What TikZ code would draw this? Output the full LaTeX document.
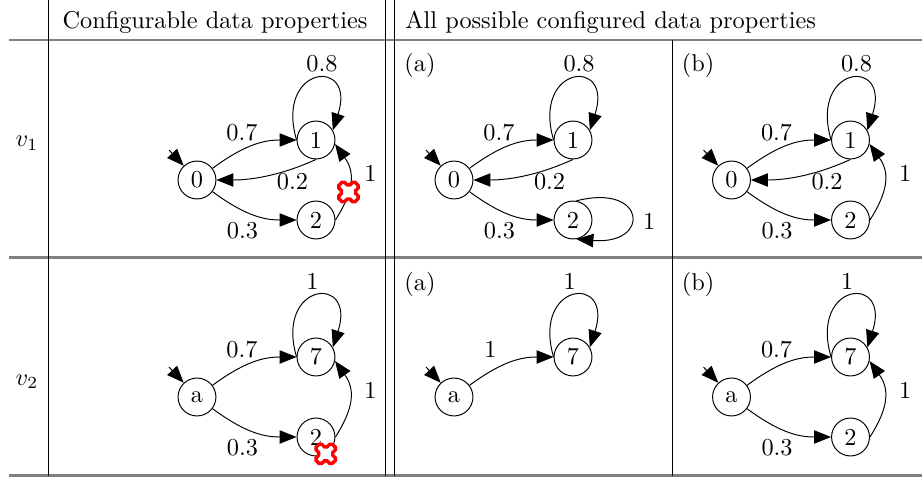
\documentclass[tikz,border=0pt]{standalone}
\usepackage{tikz}
\usetikzlibrary{arrows.meta}
\tikzset{xcross/.pic={
	\draw[red, line width=1.4pt, fill=white, rounded corners=0.8pt, rotate=45]
		(-4,-11.5) -- (4,-11.5) -- (4,-4) -- (11.5,-4) -- (11.5,4) -- (4,4) -- (4,11.5)
		-- (-4,11.5) -- (-4,4) -- (-11.5,4) -- (-11.5,-4) -- (-4,-4) -- cycle;}}

\begin{document}
\begin{tikzpicture}[x=0.4115pt, y=-0.4115pt,
	st/.style={circle, draw, minimum size=15.6pt, inner sep=0pt},
	arr/.style={-{Triangle[length=7pt, width=5.5pt]}},
	lbl/.style={anchor=west, inner sep=0pt},
	rul/.style={gray, line width=0.9pt}]
	\useasboundingbox (0,0) rectangle (922,479);
	\draw[rul] (9,  40) -- (922,  40);
	\draw[rul] (9, 257.5) -- (922, 257.5);
	\draw[rul] (9, 475.5) -- (922, 475.5);
	\draw[black] (48,  0) -- (48,  475.5);
	\draw[black] (385, 0) -- (385, 475.5);
	\draw[black] (394, 0) -- (394, 475.5);
	\draw[black] (672, 40) -- (672, 475.5);

	\node[anchor=base, inner sep=0pt] (hcfg) at (215, 28.5) {Configurable data properties};
	\node[anchor=base west, inner sep=0pt] (hall) at (405, 28.5) {All possible configured data properties};
	\node[anchor=base, inner sep=0pt] (rv1) at (27, 147) {$v_1$};
	\node[anchor=base, inner sep=0pt] (rv2) at (27, 385) {$v_2$};
	\node[inner sep=0pt] (ta1) at (420, 65) {(a)};
	\node[inner sep=0pt] (tb1) at (698, 65) {(b)};
	\node[inner sep=0pt] (ta2) at (420, 284) {(a)};
	\node[inner sep=0pt] (tb2) at (698, 284) {(b)};

	% v1, configurable
	\node[st] (c1n0) at (197, 180) {0};
	\node[st] (c1n1) at (316, 140) {1};
	\node[st] (c1n2) at (316, 220) {2};
	\coordinate (c1s) at (169, 150);
	\draw[arr] (c1s) -- (c1n0);
	\draw[arr] (c1n0.37) .. controls +(30,-22) and +(-35,0) .. (c1n1.west);
	\draw[arr] (c1n1.south) .. controls +(-35,16) and +(35,0) .. (c1n0.east);
	\draw[arr] (c1n0.-37) .. controls +(30,22) and +(-35,0) .. (c1n2.west);
	\draw[arr] (c1n1.180) .. controls +(-22,-75) and +(24,-74) .. (c1n1.30);
	\draw[arr] (c1n2.east) .. controls +(19,-30) and +(20,28) .. coordinate[pos=0.35] (c1x) (c1n1.-12);
	\pic at (c1x) {xcross};
	\node[lbl] (c1l1) at (226, 132.5) {0.7};
	\node[lbl] (c1l2) at (276.5, 182) {0.2};
	\node[lbl] (c1l3) at (226.5, 230.5) {0.3};
	\node[lbl] (c1l4) at (306, 64) {0.8};
	\node[lbl] (c1l5) at (364, 173) {1};

	% v1, (a)
	\node[st] (a1n0) at (454, 180) {0};
	\node[st] (a1n1) at (573, 140) {1};
	\node[st] (a1n2) at (573, 220) {2};
	\coordinate (a1s) at (426, 150);
	\draw[arr] (a1s) -- (a1n0);
	\draw[arr] (a1n0.37) .. controls +(30,-22) and +(-35,0) .. (a1n1.west);
	\draw[arr] (a1n1.south) .. controls +(-35,16) and +(35,0) .. (a1n0.east);
	\draw[arr] (a1n0.-37) .. controls +(30,22) and +(-35,0) .. (a1n2.west);
	\draw[arr] (a1n1.180) .. controls +(-22,-75) and +(24,-74) .. (a1n1.30);
	\draw[arr] (a1n2.80) .. controls +(70,-18) and +(75,6) .. (a1n2.-80);
	\node[lbl] (a1l1) at (483, 132.5) {0.7};
	\node[lbl] (a1l2) at (533.5, 182) {0.2};
	\node[lbl] (a1l3) at (483.5, 230.5) {0.3};
	\node[lbl] (a1l4) at (563, 64) {0.8};
	\node[lbl] (a1l5) at (642.5, 221.5) {1};

	% v1, (b)
	\node[st] (b1n0) at (731.5, 180) {0};
	\node[st] (b1n1) at (850.5, 140) {1};
	\node[st] (b1n2) at (850.5, 220) {2};
	\coordinate (b1s) at (703.5, 150);
	\draw[arr] (b1s) -- (b1n0);
	\draw[arr] (b1n0.37) .. controls +(30,-22) and +(-35,0) .. (b1n1.west);
	\draw[arr] (b1n1.south) .. controls +(-35,16) and +(35,0) .. (b1n0.east);
	\draw[arr] (b1n0.-37) .. controls +(30,22) and +(-35,0) .. (b1n2.west);
	\draw[arr] (b1n1.180) .. controls +(-22,-75) and +(24,-74) .. (b1n1.30);
	\draw[arr] (b1n2.east) .. controls +(19,-30) and +(20,28) .. (b1n1.-12);
	\node[lbl] (b1l1) at (760.5, 132.5) {0.7};
	\node[lbl] (b1l2) at (811, 182) {0.2};
	\node[lbl] (b1l3) at (761, 230.5) {0.3};
	\node[lbl] (b1l4) at (840.5, 64) {0.8};
	\node[lbl] (b1l5) at (898.5, 173) {1};

	% v2, configurable
	\node[st] (c2n0) at (197, 397) {a};
	\node[st] (c2n1) at (316, 357) {7};
	\node[st] (c2n2) at (316, 437) {2};
	\coordinate (c2s) at (169, 367);
	\draw[arr] (c2s) -- (c2n0);
	\draw[arr] (c2n0.37) .. controls +(30,-22) and +(-35,0) .. (c2n1.west);
	\draw[arr] (c2n0.-37) .. controls +(30,22) and +(-35,0) .. (c2n2.west);
	\draw[arr] (c2n1.180) .. controls +(-22,-75) and +(24,-74) .. (c2n1.30);
	\draw[arr] (c2n2.east) .. controls +(19,-30) and +(20,28) .. (c2n1.-12);
	\pic at (c2n2.-60) {xcross};
	\node[lbl] (c2l1) at (226, 349.5) {0.7};
	\node[lbl] (c2l3) at (226.5, 447.5) {0.3};
	\node[lbl] (c2l4) at (306, 281) {1};
	\node[lbl] (c2l5) at (364, 390) {1};

	% v2, (a)
	\node[st] (a2n0) at (454, 397) {a};
	\node[st] (a2n1) at (573, 357) {7};
	\coordinate (a2s) at (426, 367);
	\draw[arr] (a2s) -- (a2n0);
	\draw[arr] (a2n0.37) .. controls +(30,-22) and +(-35,0) .. (a2n1.west);
	\draw[arr] (a2n1.180) .. controls +(-22,-75) and +(24,-74) .. (a2n1.30);
	\node[lbl] (a2l1) at (484, 349.5) {1};
	\node[lbl] (a2l4) at (563, 281) {1};

	% v2, (b)
	\node[st] (b2n0) at (731.5, 397) {a};
	\node[st] (b2n1) at (850.5, 357) {7};
	\node[st] (b2n2) at (850.5, 437) {2};
	\coordinate (b2s) at (703.5, 367);
	\draw[arr] (b2s) -- (b2n0);
	\draw[arr] (b2n0.37) .. controls +(30,-22) and +(-35,0) .. (b2n1.west);
	\draw[arr] (b2n0.-37) .. controls +(30,22) and +(-35,0) .. (b2n2.west);
	\draw[arr] (b2n1.180) .. controls +(-22,-75) and +(24,-74) .. (b2n1.30);
	\draw[arr] (b2n2.east) .. controls +(19,-30) and +(20,28) .. (b2n1.-12);
	\node[lbl] (b2l1) at (760.5, 349.5) {0.7};
	\node[lbl] (b2l3) at (761, 447.5) {0.3};
	\node[lbl] (b2l4) at (840.5, 281) {1};
	\node[lbl] (b2l5) at (898.5, 390) {1};
\end{tikzpicture}
\end{document}
